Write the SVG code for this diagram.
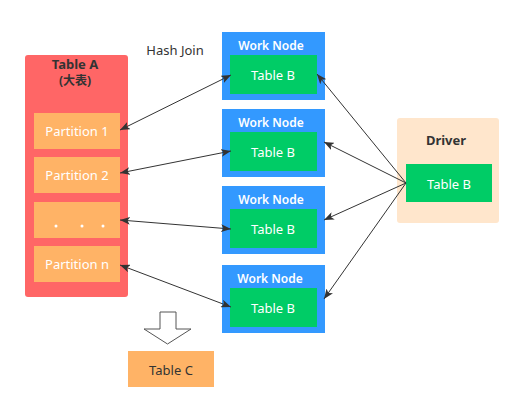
<svg xmlns="http://www.w3.org/2000/svg" width="524" height="413" viewBox="0 0 524 413">
<defs>
<style>
text{font-family:"Noto Sans","Noto Sans CJK SC",sans-serif;text-anchor:middle;dominant-baseline:central}
.part{fill:#FFB366}
.wn{fill:#3399FF}
.tb{fill:#00CC66}
.wt{fill:#fff;font-size:12px;font-weight:600}
.bt{fill:#fff;font-size:13px}
.dark{fill:#333;font-size:13px}
.conn{stroke:#333;stroke-width:1;fill:none}
</style>
<marker id="ah" viewBox="0 0 10 8" refX="10" refY="4" markerWidth="10" markerHeight="8" markerUnits="userSpaceOnUse" orient="auto-start-reverse">
<path d="M0,0 L10,4 L0,8 L2.5,4 Z" fill="#333"/>
</marker>
</defs>
<rect width="524" height="413" fill="#fff"/>

<g id="tableA">
<rect x="25" y="55" width="103" height="242" rx="3" fill="#FF6666"/>
<text x="75" y="64" style="fill:#333;font-size:13px;font-weight:bold">Table A</text>
<text x="75" y="80" style="fill:#333;font-size:12px;font-weight:bold">(大表)</text>
</g>
<g id="partition1"><rect class="part" x="34" y="113" width="86" height="36"/><text class="bt" x="77" y="131">Partition 1</text></g>
<g id="partition2"><rect class="part" x="34" y="157" width="86" height="36"/><text class="bt" x="77" y="175">Partition 2</text></g>
<g id="partitionDots"><rect class="part" x="34" y="202" width="86" height="36"/><circle cx="56" cy="226" r="1.5" fill="#fff"/><circle cx="82" cy="226" r="1.5" fill="#fff"/><circle cx="103" cy="226" r="1.5" fill="#fff"/></g>
<g id="partitionN"><rect class="part" x="34" y="246" width="86" height="36"/><text class="bt" x="77" y="264">Partition n</text></g>

<g id="hashJoinLabel"><text class="dark" x="175" y="50">Hash Join</text></g>

<g id="workNode1"><rect class="wn" x="222" y="32" width="103" height="68"/><text class="wt" x="271" y="45">Work Node</text><rect class="tb" x="230" y="55" width="87" height="39"/><text class="bt" x="273" y="75">Table B</text></g>
<g id="workNode2"><rect class="wn" x="222" y="109" width="103" height="68"/><text class="wt" x="271" y="122">Work Node</text><rect class="tb" x="230" y="132" width="87" height="39"/><text class="bt" x="273" y="152">Table B</text></g>
<g id="workNode3"><rect class="wn" x="222" y="186" width="103" height="68"/><text class="wt" x="271" y="199">Work Node</text><rect class="tb" x="230" y="209" width="87" height="39"/><text class="bt" x="273" y="229">Table B</text></g>
<g id="workNode4"><rect class="wn" x="222" y="265" width="103" height="68"/><text class="wt" x="270" y="278">Work Node</text><rect class="tb" x="230" y="288" width="87" height="39"/><text class="bt" x="273" y="308">Table B</text></g>

<g id="driver"><rect x="397" y="118" width="102" height="105" rx="3" fill="#FFE6CC"/><text x="446" y="140" style="fill:#333;font-size:13px;font-weight:bold">Driver</text><rect class="tb" x="406" y="164" width="86" height="38"/><text class="bt" x="449" y="184">Table B</text></g>

<g id="tableC"><rect class="part" x="128" y="351" width="86" height="36"/><text class="dark" x="171" y="370">Table C</text></g>

<g id="connectors">
<line class="conn" x1="120" y1="130" x2="231" y2="75" marker-start="url(#ah)" marker-end="url(#ah)"/>
<line class="conn" x1="120" y1="173" x2="231" y2="151" marker-start="url(#ah)" marker-end="url(#ah)"/>
<line class="conn" x1="120" y1="220" x2="231" y2="229" marker-start="url(#ah)" marker-end="url(#ah)"/>
<line class="conn" x1="120" y1="265" x2="231" y2="307" marker-start="url(#ah)" marker-end="url(#ah)"/>
<line class="conn" x1="406" y1="183" x2="317" y2="74" marker-end="url(#ah)"/>
<line class="conn" x1="406" y1="183" x2="324" y2="142" marker-end="url(#ah)"/>
<line class="conn" x1="406" y1="183" x2="324" y2="220" marker-end="url(#ah)"/>
<line class="conn" x1="406" y1="183" x2="324" y2="299" marker-end="url(#ah)"/>
<path d="M160,312 H176 V329 H191 L167.5,344 L144,329 H160 Z" fill="#fff" stroke="#555" stroke-width="1"/>
</g>
</svg>
